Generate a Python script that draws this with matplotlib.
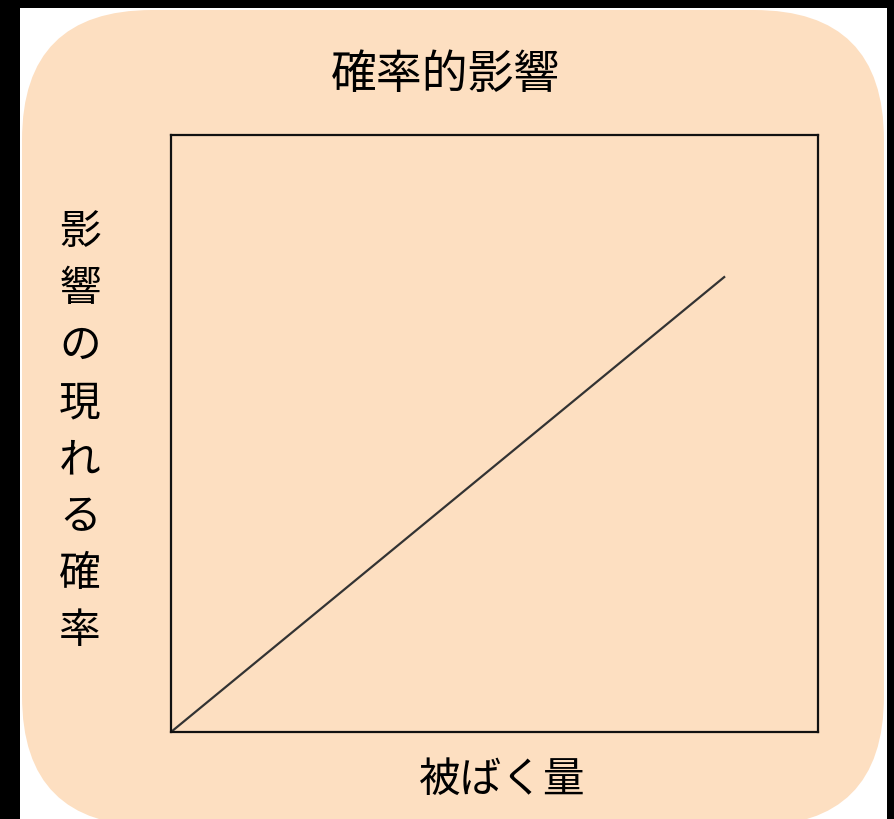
import matplotlib
matplotlib.use("Agg")
import matplotlib.pyplot as plt
from matplotlib.patches import Rectangle, FancyBboxPatch

plt.rcParams['font.family'] = ['Noto Sans CJK JP', 'DejaVu Sans']

# データ (確率的影響: 被ばく量に比例)
dose = [0.0, 0.855]
prob = [0.0, 0.762]
title = "確率的影響"
xlabel = "被ばく量"
ylabel = "影響の現れる確率"

W, H = 894, 819
fig = plt.figure(figsize=(W / 100, H / 100), dpi=100)
fig.patch.set_facecolor("black")

def px(x0, y0, w, h):
    # ピクセル(上が0) -> figure座標
    return (x0 / W, 1 - (y0 + h) / H, w / W, h / H)

x, y, w, h = px(20, 8, 867, 811)
fig.patches.append(Rectangle((x, y), w, h, transform=fig.transFigure,
                             facecolor="white", edgecolor="none", zorder=-3))
r = 130
fig.patches.append(FancyBboxPatch((22, -7), 884 - 22, H - 10 + 7,
                                  boxstyle="round,pad=0,rounding_size=%d" % r,
                                  transform=None, facecolor="#FDDFC1",
                                  edgecolor="none", zorder=-2))

ax = fig.add_axes(px(171, 135, 647, 597))
ax.patch.set_alpha(0)
ax.plot(dose, prob, color="#333333", lw=1.6)
ax.set_xlim(0, 1)
ax.set_ylim(0, 1)
ax.set_xticks([])
ax.set_yticks([])
for s in ax.spines.values():
    s.set_linewidth(1.6)
    s.set_color("#111111")

fig.text(446 / W, 1 - 75 / H, title, ha="center", va="center", fontsize=33)
fig.text(502 / W, 1 - 780 / H, xlabel, ha="center", va="center", fontsize=30)
fig.text(80 / W, 1 - 432 / H, "\n".join(ylabel), ha="center", va="center",
         fontsize=30, linespacing=1.5)

fig.savefig("out.png", dpi=100, facecolor=fig.get_facecolor())
